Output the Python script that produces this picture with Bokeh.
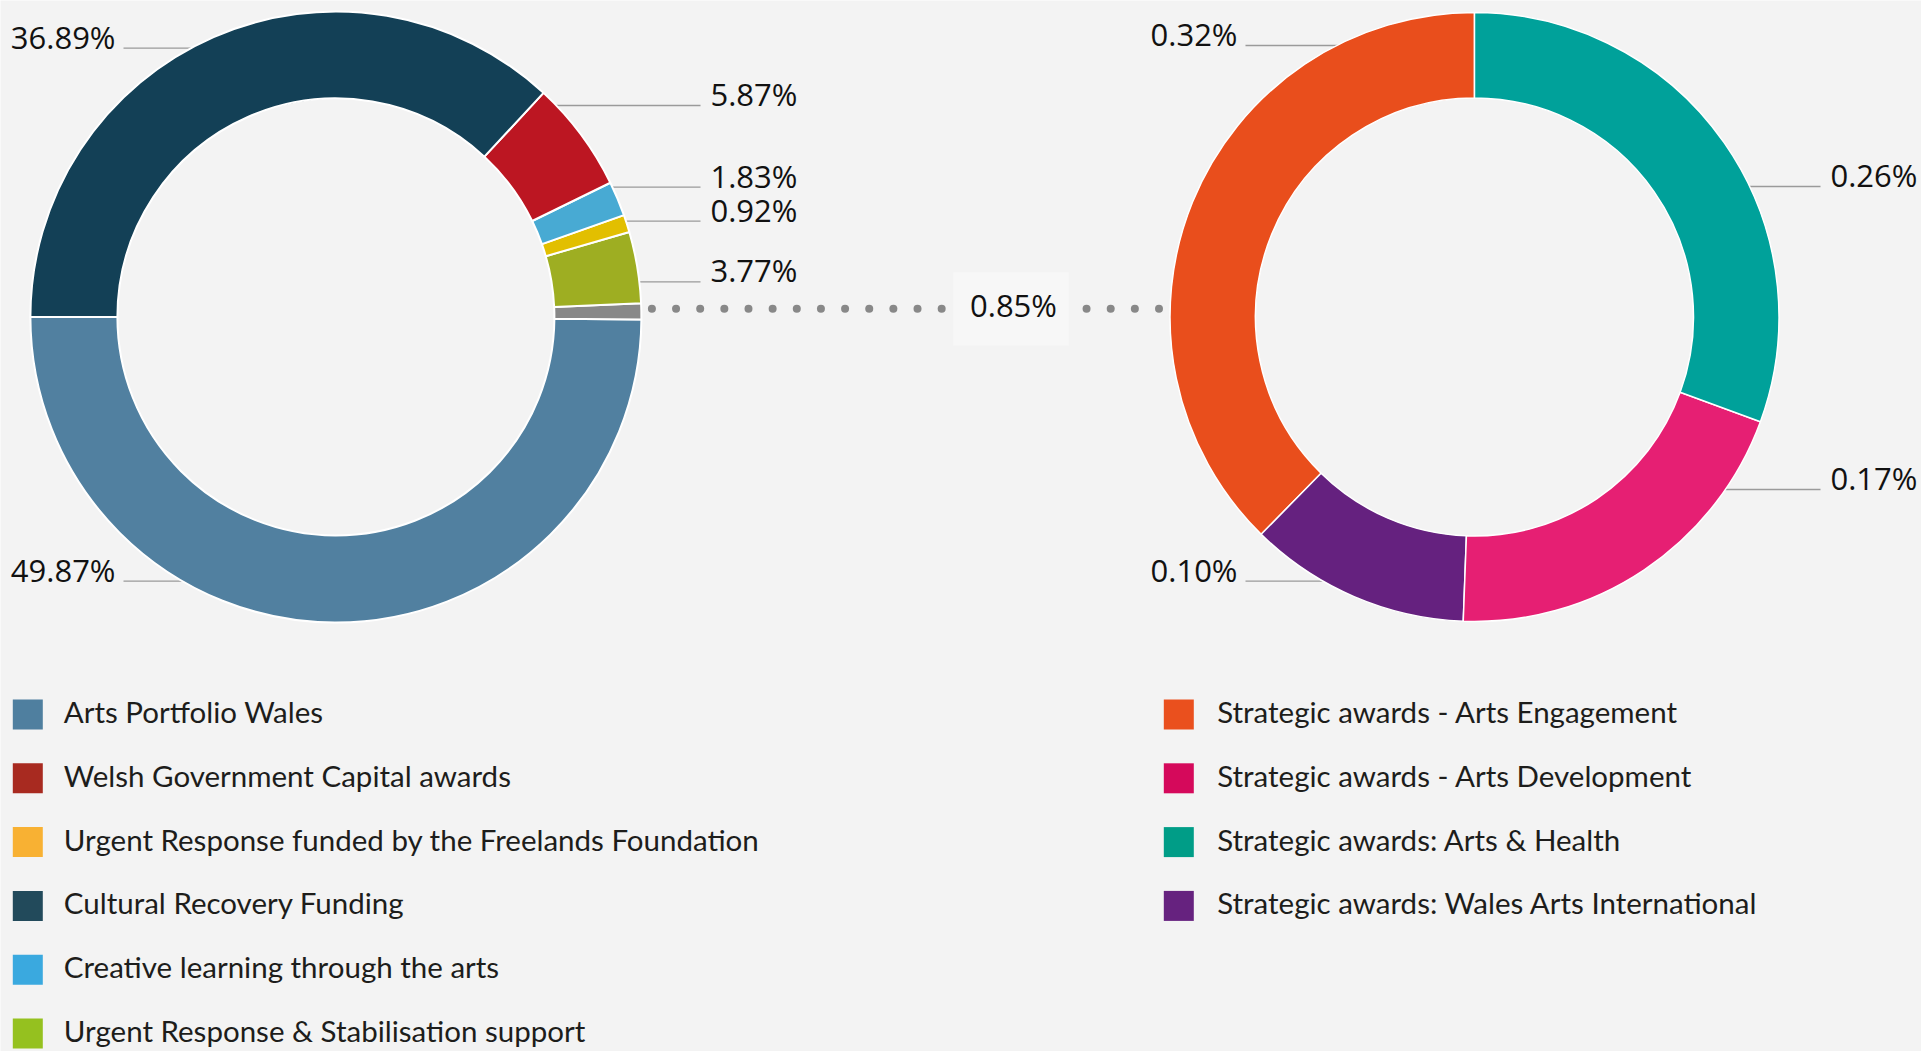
import numpy as np
from bokeh.plotting import figure
from bokeh.models import Range1d
from bokeh.embed import file_html
from bokeh.resources import INLINE
from bokeh.core.properties import value

# ---- data: share of total spend (%) ----
main_categories = [
    "Arts Portfolio Wales",
    "Welsh Government Capital awards",
    "Urgent Response funded by the Freelands Foundation",
    "Cultural Recovery Funding",
    "Creative learning through the arts",
    "Urgent Response & Stabilisation support",
]
main_values = [49.87, 5.87, 0.92, 36.89, 1.83, 3.77]
main_ring_colors = ["#5180a0", "#bc1622", "#e2bf00", "#134056", "#48aad3", "#9eae22"]
main_legend_colors = ["#4f7f9f", "#a82a20", "#f8b133", "#224a5b", "#3aa9df", "#95c11f"]

strategic_categories = [
    "Strategic awards - Arts Engagement",
    "Strategic awards - Arts Development",
    "Strategic awards: Arts & Health",
    "Strategic awards: Wales Arts International",
]
strategic_values = [0.32, 0.17, 0.26, 0.10]
strategic_ring_colors = ["#e94e1c", "#e61f73", "#00a19a", "#65217f"]
strategic_legend_colors = ["#ea501e", "#d5095b", "#009d87", "#66227f"]
strategic_group_color = "#888888"

# ---- layout ----
W, H = 1921, 1051
BG = "#f3f3f3"
LABEL_FONT = value("Open Sans")
LEGEND_FONT = value("Lato")
LINE_COLOR = "#9a9a9a"
TEXT_LIFT = 12.5  # baseline correction for the svg text renderer

def Y(ypx):
    return H - ypx

# ring geometry (pixels, y measured from top)
L_CX, L_CY, L_RO, L_RI = 335.4, 316.5, 305.5, 218.5
R_CX, R_CY, R_RO, R_RI = 1474.0, 316.5, 304.5, 219.0

# anticlockwise slice order; "S" stands for the strategic awards group
main_ring_order = [0, "S", 5, 2, 4, 1, 3]
strategic_ring_order = [0, 3, 1, 2]

# label placement: (side, leader line y)
main_label_rows = {0: ("left", 580.7), 1: ("right", 105.0), 2: ("right", 220.7),
                   3: ("left", 47.7), 4: ("right", 186.7), 5: ("right", 281.3)}
strategic_label_rows = {0: ("left", 45.0), 1: ("right", 489.0),
                        2: ("right", 186.0), 3: ("left", 580.7)}

p = figure(width=W, height=H, x_range=Range1d(0, W), y_range=Range1d(0, H),
           output_backend="svg", toolbar_location=None, min_border=0,
           background_fill_color=BG, border_fill_color=BG)
p.axis.visible = False
p.grid.visible = False
p.outline_line_color = None

strategic_total = sum(strategic_values)


def label(x, ypx, txt, align):
    p.text(x=[x], y=[Y(ypx - TEXT_LIFT)], text=[txt],
           text_font=LABEL_FONT, text_font_size="31px", text_color="#111111",
           text_align=align, text_baseline="alphabetic")


def leader_labels(cx, cy, ro, rows, values, text_left_x, text_right_x):
    for i, (side, ly) in rows.items():
        dy = cy - ly
        edge = np.sqrt(max(ro ** 2 - dy ** 2, 0.0))
        if side == "left":
            x0, x1 = text_right_x + 8, cx - edge + 4
            label(text_right_x, ly + 1, f"{values[i]:.2f}%", "right")
        else:
            x0, x1 = cx + edge - 4, text_left_x - 10
            label(text_left_x, ly + 1, f"{values[i]:.2f}%", "left")
        p.line(x=[x0, x1], y=[Y(ly), Y(ly)], line_color=LINE_COLOR, line_width=1.3)


leader_labels(L_CX, L_CY, L_RO, main_label_rows, main_values, 710, 115)
leader_labels(R_CX, R_CY, R_RO, strategic_label_rows, strategic_values, 1830, 1237)

# dotted link from the grey slice to the strategic ring
dot_y = 308.3
d0, d1 = L_CX + L_RO + 10.5, R_CX - R_RO - 11
n_dots = int(round((d1 - d0) / 24.1)) + 1
p.scatter(x=np.linspace(d0, d1, n_dots), y=[Y(dot_y)] * n_dots, size=8,
          marker="circle", fill_color="#888888", line_color=None)
p.quad(left=[952.7], right=[1068.3], top=[Y(271.7)], bottom=[Y(345.0)],
       fill_color="#f7f7f7", line_color=None)
label(1013, 316.7, f"{strategic_total:.2f}%", "center")

# main ring, anticlockwise from 9 o'clock
vals, cols = [], []
for k in main_ring_order:
    if k == "S":
        vals.append(strategic_total)
        cols.append(strategic_group_color)
    else:
        vals.append(main_values[k])
        cols.append(main_ring_colors[k])
vals = np.array(vals)
ends = np.pi + np.cumsum(vals) / vals.sum() * 2 * np.pi
starts = np.concatenate([[np.pi], ends[:-1]])
p.annular_wedge(x=L_CX, y=Y(L_CY), inner_radius=L_RI, outer_radius=L_RO,
                start_angle=starts, end_angle=ends, direction="anticlock",
                fill_color=cols, line_color="#ffffff", line_width=2)

# strategic awards ring, anticlockwise from 12 o'clock
svals = np.array([strategic_values[k] for k in strategic_ring_order])
scols = [strategic_ring_colors[k] for k in strategic_ring_order]
sends = np.pi / 2 + np.cumsum(svals) / svals.sum() * 2 * np.pi
sstarts = np.concatenate([[np.pi / 2], sends[:-1]])
p.annular_wedge(x=R_CX, y=Y(R_CY), inner_radius=R_RI, outer_radius=R_RO,
                start_angle=sstarts, end_angle=sends, direction="anticlock",
                fill_color=scols, line_color="#ffffff", line_width=1.5)

# legends
ROW0, ROW_STEP = 714.0, 63.8


def legend(names, colors, sq_x, text_x):
    rows = ROW0 + ROW_STEP * np.arange(len(names))
    p.rect(x=[sq_x] * len(names), y=Y(rows), width=30, height=30,
           fill_color=colors, line_color=None)
    p.text(x=[text_x] * len(names), y=Y(rows + 9.5 - TEXT_LIFT), text=names,
           text_font=LEGEND_FONT, text_font_size="29.5px", text_color="#1d1d1b",
           text_align="left", text_baseline="alphabetic")


legend(main_categories, main_legend_colors, 27.3, 63.3)
legend(strategic_categories, strategic_legend_colors, 1178.3, 1216.7)

open("out.html", "w").write(file_html(p, INLINE))
